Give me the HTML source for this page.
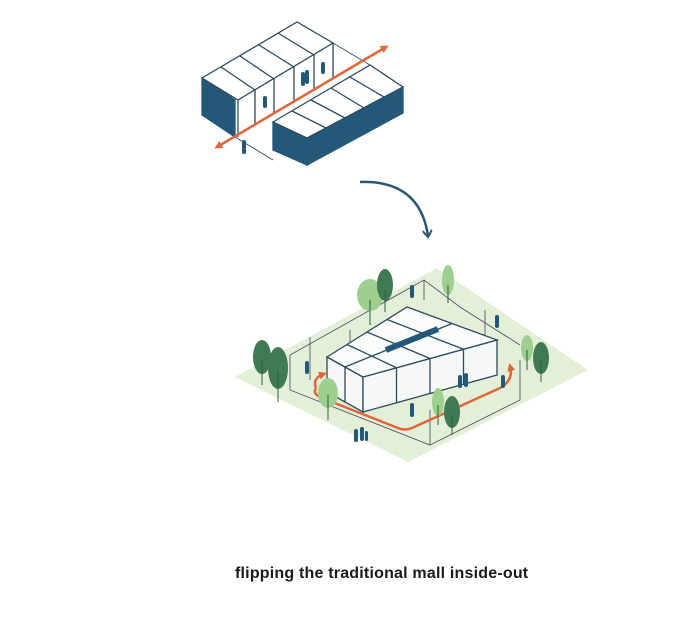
<!DOCTYPE html>
<html><head><meta charset="utf-8"><style>
html,body{margin:0;padding:0;background:#fff;width:700px;height:638px;overflow:hidden}
svg{position:absolute;left:0;top:0}
.t{font-family:"Liberation Sans",sans-serif;font-weight:bold;font-size:16px;letter-spacing:0.2px;fill:#1a1a1a}
</style></head><body>
<svg width="700" height="638" viewBox="0 0 700 638">
<defs>
<marker id="oa" markerWidth="8" markerHeight="8" refX="5" refY="4" orient="auto-start-reverse" markerUnits="userSpaceOnUse"><path d="M0,0 L8,4 L0,8 z" fill="#e0653a"/></marker>
<marker id="ba" markerWidth="10" markerHeight="10" refX="6" refY="5" orient="auto" markerUnits="userSpaceOnUse"><path d="M0,0 L7,5 L0,10" fill="none" stroke="#2b5672" stroke-width="2"/></marker>
</defs>
<g stroke="#2b4a5c" stroke-width="1.3" fill="none">
<polygon points="202,115 235,137 235,100 202,78" fill="#245878" stroke="#245878"/>
<polygon points="202,78 297,22 333,43 238,100" fill="#fff"/>
<line x1="221" y1="67" x2="255" y2="90"/><line x1="240" y1="56" x2="274" y2="79"/><line x1="259" y1="45" x2="294" y2="67"/><line x1="278" y1="33" x2="314" y2="55"/>
<line x1="238" y1="100" x2="238" y2="137"/><line x1="255" y1="90" x2="255" y2="126"/><line x1="274" y1="79" x2="274" y2="114"/><line x1="294" y1="67" x2="294" y2="103"/><line x1="314" y1="55" x2="314" y2="91"/><line x1="333" y1="43" x2="333" y2="79"/>
<line x1="235" y1="137" x2="333" y2="79" stroke-width="0.8"/>
<line x1="333" y1="43" x2="370" y2="65" stroke-width="0.8"/>
<line x1="235" y1="137" x2="273" y2="160" stroke-width="0.8"/>
<polygon points="273,122 307,138 307,165 273,150" fill="#245878" stroke="#245878"/>
<polygon points="307,138 403,87 403,113 307,165" fill="#245878" stroke="#245878"/>
<polygon points="273,122 370,65 403,87 307,138" fill="#fff"/>
<line x1="292" y1="111" x2="326" y2="128"/><line x1="311" y1="100" x2="345" y2="118"/><line x1="331" y1="88" x2="364" y2="108"/><line x1="350" y1="77" x2="384" y2="97"/>
</g>
<line x1="217" y1="147" x2="386" y2="47" stroke="#e0653a" stroke-width="2.5" marker-start="url(#oa)" marker-end="url(#oa)"/>
<g fill="#245878">
<rect x="263" y="96" width="4" height="12" rx="2"/><rect x="301" y="72" width="4" height="14" rx="2"/><rect x="305" y="70" width="4" height="14" rx="2"/><rect x="321" y="62" width="4" height="12" rx="2"/><rect x="242" y="140" width="4" height="14" rx="2"/>
</g>
<path d="M360,182 Q420,180 428,236" fill="none" stroke="#2b5672" stroke-width="2.5" marker-end="url(#ba)"/>
<polygon points="235,377 437,268 588,370 408,462" fill="#e4efd8"/>
<g stroke="#556" stroke-width="0.9" fill="none">
<polyline points="290,355 424,280 460,307"/>
<polyline points="424,280 424,300"/>
<polyline points="290,355 290,390 430,445 520,400 520,360"/>
<line x1="350" y1="330" x2="350" y2="380"/>
<line x1="460" y1="307" x2="520" y2="345"/>
<line x1="430" y1="445" x2="430" y2="410"/>
<line x1="310" y1="337" x2="310" y2="380"/>
<line x1="485" y1="310" x2="485" y2="345"/>
</g>
<g stroke="#2b4a5c" stroke-width="1.3">
<polygon points="327,357 363,377 363,412 327,392" fill="#f6f8f8"/>
<polygon points="363,377 497,340 497,375 363,412" fill="#f6f8f8"/>
<polygon points="327,357 407,307 497,340 363,377" fill="#fbfcfc"/>
<g fill="none">
<line x1="347" y1="344.5" x2="396.5" y2="367.75"/><line x1="367" y1="332" x2="430" y2="358.5"/><line x1="387" y1="319.5" x2="463.5" y2="349.25"/>
<line x1="452" y1="323.5" x2="345" y2="367"/>
<line x1="396.5" y1="367.75" x2="396.5" y2="403"/><line x1="430" y1="358.5" x2="430" y2="393.5"/><line x1="463.5" y1="349.25" x2="463.5" y2="384"/><line x1="345" y1="367" x2="345" y2="402"/>
</g>
<line x1="438" y1="329" x2="386" y2="350" stroke="#245878" stroke-width="6"/>
</g>
<path d="M316,388 Q312,394 322,398 L398,428 Q405,431 412,428 L500,388 Q514,380 510,366" fill="none" stroke="#e0653a" stroke-width="2.5" marker-end="url(#oa)"/>
<path d="M316,388 Q312,378 324,374" fill="none" stroke="#e0653a" stroke-width="2.5" marker-end="url(#oa)"/>
<g>
<ellipse cx="370" cy="295" rx="13" ry="16" fill="#9fcf8f"/><ellipse cx="385" cy="285" rx="8" ry="16" fill="#3f7a53"/>
<ellipse cx="448" cy="280" rx="6" ry="15" fill="#9fcf8f"/>
<ellipse cx="262" cy="357" rx="9" ry="17" fill="#3f7a53"/><ellipse cx="278" cy="368" rx="10" ry="21" fill="#3f7a53"/>
<ellipse cx="328" cy="393" rx="10" ry="15" fill="#9fcf8f"/>
<ellipse cx="438" cy="402" rx="6" ry="14" fill="#9fcf8f"/><ellipse cx="452" cy="412" rx="8" ry="16" fill="#3f7a53"/>
<ellipse cx="527" cy="348" rx="6" ry="13" fill="#9fcf8f"/><ellipse cx="541" cy="358" rx="8" ry="16" fill="#3f7a53"/>
</g>
<g stroke="#2b5e40" stroke-width="1">
<line x1="370" y1="300" x2="370" y2="325"/><line x1="385" y1="290" x2="385" y2="312"/><line x1="448" y1="285" x2="448" y2="303"/>
<line x1="262" y1="360" x2="262" y2="385"/><line x1="278" y1="370" x2="278" y2="402"/><line x1="328" y1="395" x2="328" y2="420"/>
<line x1="438" y1="405" x2="438" y2="425"/><line x1="452" y1="415" x2="452" y2="435"/><line x1="527" y1="350" x2="527" y2="370"/><line x1="541" y1="360" x2="541" y2="382"/>
</g>
<g fill="#245878">
<rect x="410" y="285" width="4" height="13" rx="2"/><rect x="495" y="315" width="4" height="13" rx="2"/><rect x="305" y="361" width="4" height="13" rx="2"/>
<rect x="458" y="375" width="4" height="13" rx="2"/><rect x="464" y="373" width="4" height="14" rx="2"/><rect x="501" y="375" width="4" height="13" rx="2"/>
<rect x="410" y="403" width="4" height="14" rx="2"/><rect x="354" y="429" width="4" height="13" rx="2"/><rect x="360" y="427" width="4" height="14" rx="2"/><rect x="365" y="431" width="3" height="10" rx="1.5"/>
</g>
<text class="t" x="235" y="578">flipping the traditional mall inside-out</text>
</svg>
</body></html>
